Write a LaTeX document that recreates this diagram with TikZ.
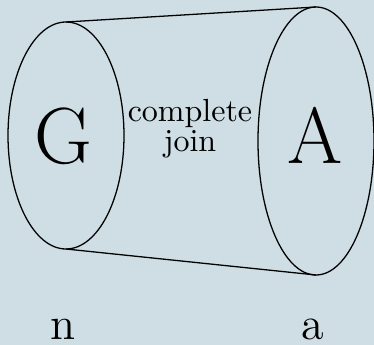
\documentclass[tikz,border=0pt]{standalone}
\usepackage[dvipsnames]{xcolor}
\usepackage{tikz}
\definecolor{paneblue}{RGB}{206,222,228}
\tikzset{
  letter/.style={anchor=base,font=\Huge},
  size/.style={anchor=base,font=\Large},
}

\begin{document}
\begin{tikzpicture}[x=.3125pt,y=-.3125pt]
        \fill[paneblue] (0, 0) rectangle (374, 345);
        \useasboundingbox (0, 0) rectangle (374, 345);
        \draw (66, 135.5) ellipse [x radius=58, y radius=113.5];
        \draw (316, 141) ellipse [x radius=58, y radius=134];
        \coordinate (Gtop) at (66, 22);
        \coordinate (Gbot) at (66, 249);
        \coordinate (Atop) at (316, 7);
        \coordinate (Abot) at (316, 275);
        \draw (Gtop) -- (Atop);
        \draw (Gbot) -- (Abot);

        \node[letter] (G) at (63, 163) {G};
        \node[letter] (A) at (315, 163) {A};
        \node[align=center,inner sep=0pt] (join) at (190, 128.7) {complete\\[-2.6pt]join};

        \node[size] (n) at (63, 340) {n};
        \node[size] (a) at (313, 340) {a};
    \end{tikzpicture}
\end{document}
